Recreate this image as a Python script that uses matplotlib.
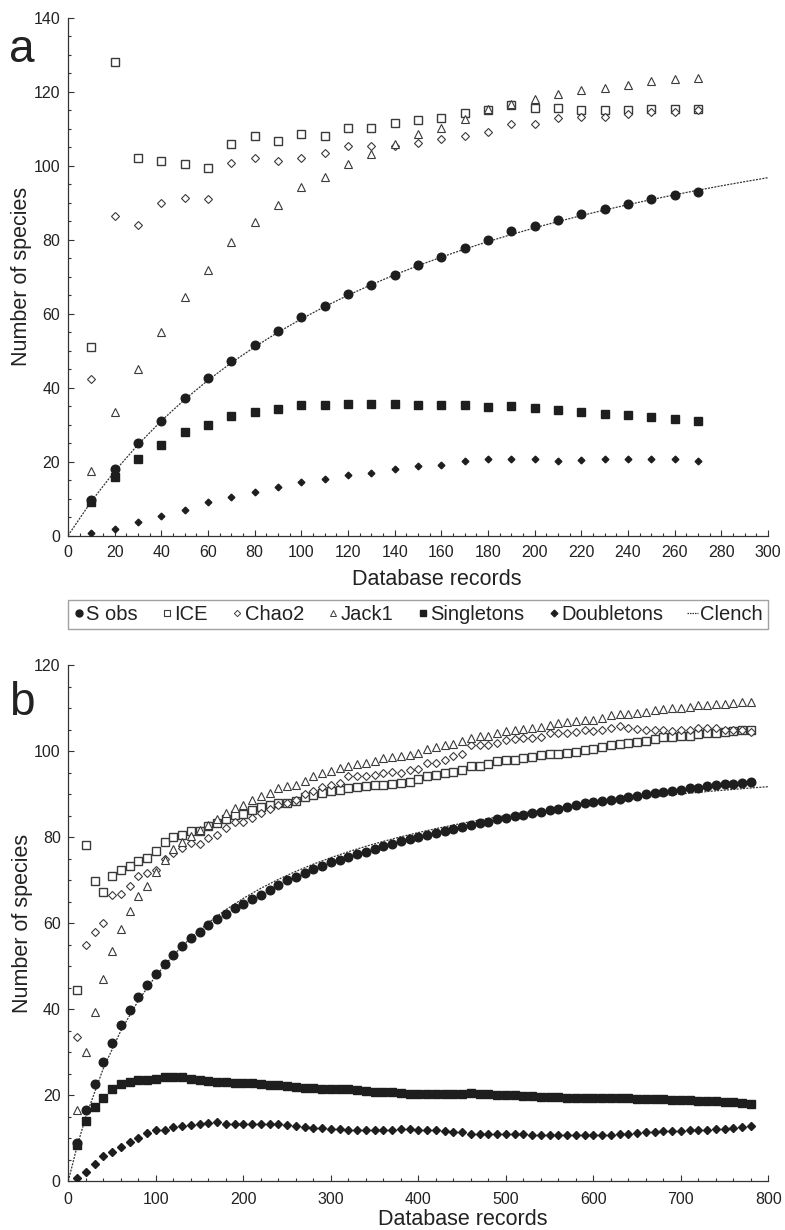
import matplotlib
matplotlib.use("Agg")
import matplotlib.pyplot as plt
from matplotlib.lines import Line2D
from matplotlib.ticker import MultipleLocator

plt.rcParams['font.family'] = ['Liberation Sans', 'DejaVu Sans']

# ---------------- Panel a data ----------------
records_a = [10, 20, 30, 40, 50, 60, 70, 80, 90, 100, 110, 120, 130, 140, 150,
             160, 170, 180, 190, 200, 210, 220, 230, 240, 250, 260, 270]
sobs_a = [9.5, 18.0, 25.0, 31.1, 37.1, 42.5, 47.3, 51.5, 55.4, 59.2, 62.2, 65.3, 67.9, 70.4,
          73.1, 75.3, 77.9, 80.0, 82.3, 83.8, 85.4, 87.0, 88.3, 89.7, 91.0, 92.1, 93.0]
ice_a = [50.9, 128.1, 102.1, 101.2, 100.4, 99.3, 105.8, 108.0, 106.7, 108.5, 108.0, 110.2,
         110.2, 111.6, 112.3, 113.0, 114.2, 115.1, 116.4, 115.7, 115.6, 115.1, 115.0, 115.2,
         115.4, 115.3, 115.4]
chao2_a = [42.3, 86.5, 84.0, 89.9, 91.3, 91.1, 100.8, 102.2, 101.2, 102.1, 103.4, 105.5,
           105.3, 105.3, 106.2, 107.4, 108.1, 109.2, 111.4, 111.2, 112.9, 113.3, 113.2,
           114.1, 114.7, 114.6, 115.2]
jack1_a = [17.5, 33.3, 45.0, 55.2, 64.5, 71.9, 79.3, 84.8, 89.3, 94.3, 97.1, 100.6, 103.2,
           105.9, 108.5, 110.3, 112.8, 115.5, 116.7, 118.2, 119.4, 120.4, 121.1, 122.0,
           122.9, 123.4, 123.9]
single_a = [9.0, 15.9, 20.7, 24.6, 27.9, 30.0, 32.4, 33.5, 34.3, 35.3, 35.3, 35.6, 35.5,
            35.5, 35.4, 35.3, 35.3, 34.9, 35.0, 34.4, 34.1, 33.5, 32.9, 32.5, 32.1, 31.5, 31.1]
double_a = [0.6, 1.7, 3.6, 5.2, 7.0, 9.2, 10.4, 11.7, 13.2, 14.5, 15.3, 16.3, 16.9, 17.9,
            18.9, 19.2, 20.2, 20.6, 20.8, 20.7, 20.3, 20.5, 20.7, 20.8, 20.7, 20.6, 20.1]
clench_x_a = [0, 10, 20, 30, 40, 50, 60, 70, 80, 90, 100, 110, 120, 130, 140, 150, 160,
              170, 180, 190, 200, 210, 220, 230, 240, 250, 260, 270, 280, 290, 300]
clench_a = [0.0, 9.26, 17.40, 24.60, 31.04, 36.81, 42.01, 46.74, 51.04, 54.98, 58.60, 61.93,
            65.01, 67.87, 70.53, 73.00, 75.32, 77.49, 79.52, 81.43, 83.24, 84.94, 86.55,
            88.07, 89.51, 90.88, 92.18, 93.42, 94.61, 95.73, 96.81]

# ---------------- Panel b data ----------------
records_b = list(range(10, 790, 10))
sobs_b = [8.8, 16.4, 22.6, 27.7, 32.2, 36.2, 39.7, 42.8, 45.6, 48.2,
          50.5, 52.6, 54.6, 56.4, 58.0, 59.5, 60.9, 62.2, 63.4, 64.5,
          65.6, 66.6, 67.6, 68.9, 69.9, 70.8, 71.6, 72.5, 73.3, 74.1,
          74.7, 75.4, 76.0, 76.6, 77.2, 77.8, 78.4, 79.0, 79.5, 80.0,
          80.5, 80.9, 81.4, 81.9, 82.4, 82.8, 83.3, 83.6, 84.1, 84.4,
          84.8, 85.2, 85.5, 85.8, 86.2, 86.6, 87.0, 87.4, 87.8, 88.1,
          88.3, 88.7, 88.9, 89.3, 89.6, 89.9, 90.3, 90.5, 90.7, 91.0,
          91.3, 91.5, 91.8, 92.1, 92.3, 92.4, 92.6, 92.9]
ice_b = [44.5, 78.1, 69.8, 67.1, 70.9, 72.3, 73.3, 74.5, 75.1, 76.8,
         78.9, 80.0, 80.5, 81.5, 81.5, 82.5, 83.3, 84.3, 85.1, 85.4,
         86.2, 86.9, 87.5, 87.8, 87.9, 88.4, 89.2, 89.8, 90.3, 90.7,
         91.0, 91.3, 91.7, 91.8, 92.0, 92.2, 92.4, 92.6, 92.7, 93.4,
         94.1, 94.5, 94.8, 95.2, 95.5, 96.5, 96.6, 96.9, 97.6, 97.9,
         98.0, 98.4, 98.6, 99.0, 99.2, 99.4, 99.6, 99.7, 100.2, 100.5,
         101.0, 101.3, 101.7, 101.9, 102.0, 102.3, 102.8, 103.2, 103.2, 103.4,
         103.6, 104.0, 104.2, 104.2, 104.4, 104.6, 104.8, 105.0]
chao2_b = [33.4, 55.0, 57.8, 60.1, 66.4, 66.8, 68.7, 70.9, 71.6, 72.4,
           75.0, 76.3, 77.5, 78.6, 78.4, 79.7, 80.5, 82.0, 83.4, 83.4,
           84.4, 85.6, 86.5, 87.4, 87.9, 88.7, 90.1, 90.6, 91.7, 92.0,
           92.6, 94.1, 94.3, 94.1, 94.5, 94.9, 95.2, 94.9, 95.5, 95.9,
           97.1, 97.3, 97.9, 98.8, 99.3, 101.3, 101.5, 101.5, 101.9, 102.5,
           102.8, 103.0, 103.1, 103.2, 104.1, 104.2, 104.2, 104.5, 104.8, 104.7,
           105.0, 105.3, 105.8, 105.3, 105.2, 105.0, 105.0, 104.8, 104.6, 105.0,
           105.0, 105.4, 105.3, 105.3, 105.0, 105.0, 104.8, 104.4]
jack1_b = [16.5, 30.0, 39.3, 47.0, 53.4, 58.6, 62.9, 66.2, 68.7, 71.9,
           74.7, 77.2, 78.9, 80.3, 81.7, 82.8, 84.1, 85.5, 86.7, 87.4,
           88.5, 89.6, 90.3, 91.5, 91.8, 92.2, 93.1, 94.1, 94.9, 95.4,
           96.0, 96.6, 96.9, 97.1, 97.7, 98.3, 98.6, 98.8, 99.1, 99.6,
           100.5, 101.0, 101.3, 101.7, 102.3, 103.1, 103.4, 103.4, 104.1, 104.6,
           105.0, 105.2, 105.4, 105.6, 106.1, 106.6, 106.7, 106.9, 107.2, 107.3,
           107.7, 108.3, 108.6, 108.7, 108.9, 109.0, 109.5, 109.8, 109.9, 110.1,
           110.3, 110.6, 110.8, 110.9, 110.9, 111.2, 111.4, 111.3]
single_b = [8.4, 14.0, 17.2, 19.4, 21.3, 22.6, 23.1, 23.5, 23.5, 23.7,
            24.1, 24.3, 24.1, 23.8, 23.4, 23.2, 23.0, 23.0, 22.9, 22.7,
            22.7, 22.5, 22.4, 22.3, 22.0, 21.8, 21.7, 21.6, 21.5, 21.5,
            21.4, 21.4, 21.2, 21.0, 20.8, 20.7, 20.6, 20.4, 20.3, 20.3,
            20.3, 20.3, 20.2, 20.2, 20.3, 20.4, 20.3, 20.2, 20.1, 20.1,
            20.0, 19.8, 19.7, 19.6, 19.6, 19.6, 19.4, 19.3, 19.3, 19.3,
            19.3, 19.3, 19.3, 19.2, 19.1, 19.0, 19.0, 19.0, 18.9, 18.9,
            18.8, 18.7, 18.7, 18.6, 18.4, 18.3, 18.2, 17.9]
double_b = [0.6, 2.2, 3.9, 5.7, 6.8, 8.0, 9.1, 10.1, 11.1, 11.8,
            11.8, 12.5, 12.8, 13.0, 13.3, 13.4, 13.7, 13.3, 13.3, 13.3,
            13.3, 13.3, 13.2, 13.2, 13.0, 12.7, 12.5, 12.3, 12.3, 12.2,
            12.1, 11.9, 11.8, 11.9, 11.9, 11.9, 11.9, 12.1, 12.0, 11.9,
            11.9, 11.8, 11.7, 11.5, 11.3, 11.0, 10.9, 10.9, 10.9, 10.9,
            10.9, 10.9, 10.8, 10.7, 10.7, 10.7, 10.7, 10.7, 10.7, 10.8,
            10.8, 10.8, 10.9, 11.0, 11.2, 11.3, 11.4, 11.6, 11.7, 11.7,
            11.8, 11.9, 11.9, 12.1, 12.2, 12.3, 12.6, 12.8]
clench_x_b = [0, 10, 20, 40, 60, 80, 100, 120, 140, 160, 180, 200, 220, 240, 260, 280, 300,
              320, 340, 360, 380, 400, 420, 440, 460, 480, 500, 520, 540, 560, 580, 600,
              620, 640, 660, 680, 700, 720, 740, 760, 780, 800]
clench_b = [0.0, 8.04, 14.94, 26.18, 34.93, 41.95, 47.71, 52.50, 56.57, 60.05, 63.08, 65.73,
            68.06, 70.14, 72.00, 73.68, 75.19, 76.57, 77.83, 78.98, 80.05, 81.03, 81.94,
            82.78, 83.57, 84.30, 84.99, 85.63, 86.23, 86.80, 87.34, 87.85, 88.33, 88.78,
            89.21, 89.62, 90.01, 90.38, 90.74, 91.07, 91.40, 91.70]

legend_labels = ['S obs', 'ICE', 'Chao2', 'Jack1', 'Singletons', 'Doubletons', 'Clench']

INK = '#1e1e1e'
OPEN_EDGE = '#3a3a3a'
TXT = '#222222'
W, H = 785, 1230

fig = plt.figure(figsize=(W / 100, H / 100), dpi=100)


def style_axes(ax, xmax, xmajor, xminor, ymax, xpad, xlab_pos):
    ax.set_xlim(0, xmax)
    ax.set_ylim(0, ymax)
    for s in ('top', 'right'):
        ax.spines[s].set_visible(False)
    for s in ('left', 'bottom'):
        ax.spines[s].set_color('#333333')
        ax.spines[s].set_linewidth(0.9)
    ax.xaxis.set_major_locator(MultipleLocator(xmajor))
    ax.xaxis.set_minor_locator(MultipleLocator(xminor))
    ax.yaxis.set_major_locator(MultipleLocator(20))
    ax.yaxis.set_minor_locator(MultipleLocator(5))
    ax.tick_params(which='both', direction='in', color='#333333', width=0.8,
                   labelsize=11.5, labelcolor=TXT)
    ax.tick_params(axis='y', which='both', pad=5.5)
    ax.tick_params(axis='x', which='both', pad=xpad)
    ax.tick_params(which='major', length=4)
    ax.tick_params(which='minor', length=2.2)
    ax.set_xlabel('Database records', fontsize=15.5, color=TXT)
    ax.xaxis.set_label_coords(*xlab_pos)
    ax.xaxis.label.set_va('baseline')
    ax.set_ylabel('Number of species', fontsize=15.5, color=TXT, labelpad=1)


def draw(ax, x, sobs, ice, chao2, jack1, single, double, cx, cy, sz):
    ax.plot(cx, cy, linestyle=(0, (1.6, 1.0)), color='#333333', linewidth=0.9, zorder=2)
    ax.plot(x, ice, 's', ms=sz['ice'], mfc='white', mec=OPEN_EDGE, mew=1.0, zorder=3)
    ax.plot(x, chao2, 'D', ms=sz['chao2'], mfc='white', mec=OPEN_EDGE, mew=0.8, zorder=3)
    ax.plot(x, jack1, '^', ms=sz['jack1'], mfc='white', mec=OPEN_EDGE, mew=0.8, zorder=3)
    ax.plot(x, single, 's', ms=sz['single'], color=INK, mec=INK, zorder=4)
    ax.plot(x, double, 'D', ms=sz['double'], color=INK, mec=INK, zorder=4)
    ax.plot(x, sobs, 'o', ms=sz['sobs'], color=INK, mec=INK, zorder=5)


# Panel a
axa = fig.add_axes([68 / W, 1 - 535.6 / H, 700 / W, 517.6 / H])
draw(axa, records_a, sobs_a, ice_a, chao2_a, jack1_a, single_a, double_a,
     clench_x_a, clench_a,
     dict(ice=6.0, chao2=3.6, jack1=5.2, single=5.6, double=3.4, sobs=6.2))
style_axes(axa, 300, 20, 5, 140, 6.5, ((437 - 68) / 700, (535.6 - 585) / 517.6))

# Panel b
axb = fig.add_axes([68.3 / W, 1 - 1181 / H, 700 / W, 516 / H])
draw(axb, records_b, sobs_b, ice_b, chao2_b, jack1_b, single_b, double_b,
     clench_x_b, clench_b,
     dict(ice=5.6, chao2=3.6, jack1=5.2, single=5.8, double=3.6, sobs=6.2))
style_axes(axb, 800, 100, 20, 120, 8.0, ((463 - 68.3) / 700, (1181 - 1225) / 516))

fig.text(9 / W, 1 - 62 / H, 'a', fontsize=33, color=TXT, ha='left', va='baseline')
fig.text(9 / W, 1 - 715 / H, 'b', fontsize=33, color=TXT, ha='left', va='baseline')

# Legend
handles = [
    Line2D([], [], ls='none', marker='o', ms=5, color=INK),
    Line2D([], [], ls='none', marker='s', ms=5, mfc='white', mec=OPEN_EDGE, mew=0.8),
    Line2D([], [], ls='none', marker='D', ms=3.2, mfc='white', mec=OPEN_EDGE, mew=0.7),
    Line2D([], [], ls='none', marker='^', ms=4.5, mfc='white', mec=OPEN_EDGE, mew=0.7),
    Line2D([], [], ls='none', marker='s', ms=5, color=INK),
    Line2D([], [], ls='none', marker='D', ms=3.4, color=INK),
    Line2D([], [], ls=(0, (1.2, 0.8)), lw=0.9, color='#333333'),
]
leg = fig.legend(handles, legend_labels, loc='lower left',
                 bbox_to_anchor=(68 / W, 1 - 629 / H, 700 / W, 30 / H),
                 mode='expand', ncol=7, fontsize=14.5, frameon=True, fancybox=False,
                 handlelength=0.55, handletextpad=0.1, borderaxespad=0.0,
                 borderpad=0.25, columnspacing=0.5, labelcolor=TXT)
leg.get_frame().set_edgecolor('#8a8a8a')
leg.get_frame().set_linewidth(1.0)

fig.savefig('out.png', dpi=100)
